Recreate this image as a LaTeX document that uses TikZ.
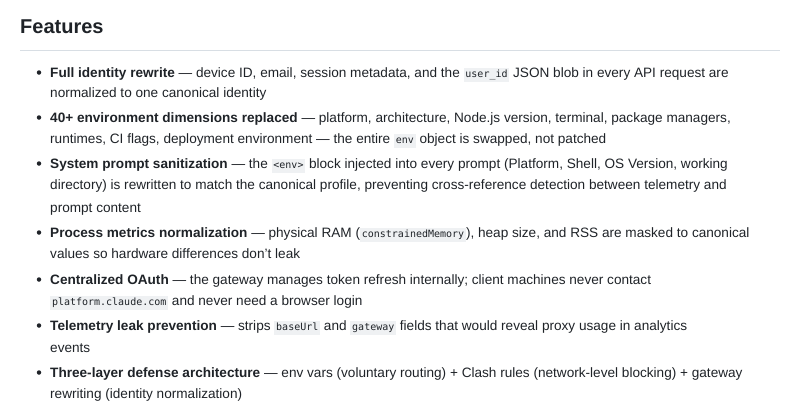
\documentclass[tikz,border=0pt]{standalone}
\usepackage{fontspec}
\setmainfont{Liberation Sans}
\setmonofont{DejaVu Sans Mono}
\definecolor{codebg}{HTML}{EFF1F3}
\definecolor{txt}{HTML}{1F2328}
\definecolor{rule}{HTML}{D8DEE4}
\newcommand{\cd}[1]{{\setlength{\fboxsep}{1.8pt}\colorbox{codebg}{\ttfamily\fontsize{10}{10}\selectfont\strut #1}}}
\newcommand{\bl}[1]{\textbf{#1}}
\begin{document}
\begin{tikzpicture}[x=1pt,y=-1pt,
  ln/.style={anchor=base west,inner sep=0pt,text=txt,font=\fontsize{13.6}{16}\selectfont},
  dot/.style={circle,fill=txt,inner sep=0pt,minimum size=4.5pt}]
\useasboundingbox[fill=white] (0,0) rectangle (800,410);
\node[ln,font=\fontsize{20}{24}\selectfont\bfseries] (t) at (20,33) {Features};
\draw[rule,line width=1pt] (20,50) -- (780,50);
\foreach \y [count=\i] in {77,122,168,237,284,330,377}{\node[dot] (d\i) at (39,\y-4.5) {};}
\node[ln] (a1) at (50,77) {\bl{Full identity rewrite} — device ID, email, session metadata, and the \cd{user\_id} JSON blob in every API request are};
\node[ln] (a2) at (50,97) {normalized to one canonical identity};
\node[ln] (b1) at (50,122) {\bl{40+ environment dimensions replaced} — platform, architecture, Node.js version, terminal, package managers,};
\node[ln] (b2) at (50,143) {runtimes, CI flags, deployment environment — the entire \cd{env} object is swapped, not patched};
\node[ln] (c1) at (50,168) {\bl{System prompt sanitization} — the \cd{<env>} block injected into every prompt (Platform, Shell, OS Version, working};
\node[ln] (c2) at (50,189) {directory) is rewritten to match the canonical profile, preventing cross-reference detection between telemetry and};
\node[ln] (c3) at (50,212) {prompt content};
\node[ln] (e1) at (50,237) {\bl{Process metrics normalization} — physical RAM (\cd{constrainedMemory}), heap size, and RSS are masked to canonical};
\node[ln] (e2) at (50,258) {values so hardware differences don't leak};
\node[ln] (f1) at (50,284) {\bl{Centralized OAuth} — the gateway manages token refresh internally; client machines never contact};
\node[ln] (f2) at (50,305) {\cd{platform.claude.com} and never need a browser login};
\node[ln] (g1) at (50,330) {\bl{Telemetry leak prevention} — strips \cd{baseUrl} and \cd{gateway} fields that would reveal proxy usage in analytics};
\node[ln] (g2) at (50,352) {events};
\node[ln] (h1) at (50,377) {\bl{Three-layer defense architecture} — env vars (voluntary routing) + Clash rules (network-level blocking) + gateway};
\node[ln] (h2) at (50,398) {rewriting (identity normalization)};
\end{tikzpicture}
\end{document}
